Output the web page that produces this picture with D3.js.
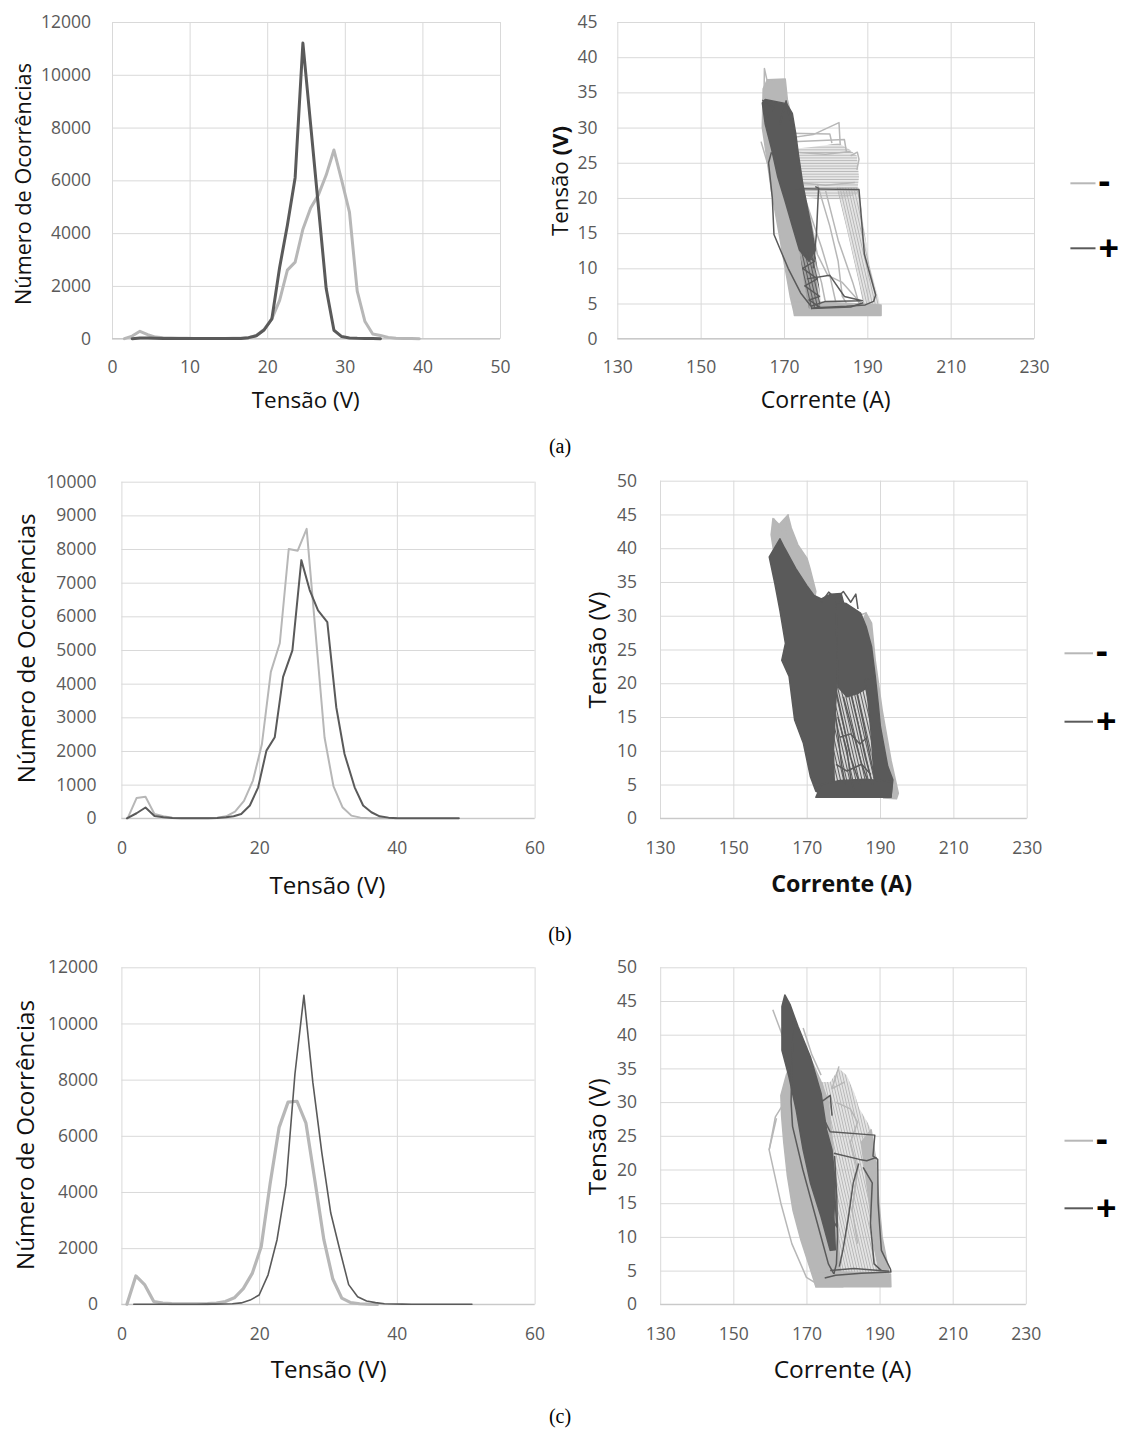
<!DOCTYPE html>
<html><head><meta charset="utf-8">
<script src="https://cdn.jsdelivr.net/npm/d3@7"></script>
<style>body{margin:0;background:#fff}</style>
</head><body>
<svg id="fig" width="1121" height="1431"></svg>
<script>
// ---------------- DATA ----------------
// Histograms: voltage (V) and number of occurrences
const histA_lightV = [1.6,2.6,3.6,4.6,5.6,6.6,7.6,8.6,9.6,10.6,11.6,12.6,13.6,14.6,15.6,16.6,17.6,18.6,19.6,20.6,21.6,22.6,23.6,24.6,25.6,26.6,27.6,28.6,29.6,30.6,31.6,32.6,33.6,34.6,35.6,36.6,37.6,38.6,39.6];
const histA_lightN = [0,100,280,150,60,40,30,20,15,10,10,10,10,10,15,20,40,120,350,750,1450,2600,2900,4150,4950,5450,6200,7150,6000,4800,1800,650,180,120,50,20,10,5,0];
const histA_darkV = [2.6,3.6,4.6,5.6,6.6,7.6,8.6,9.6,10.6,11.6,12.6,13.6,14.6,15.6,16.6,17.6,18.6,19.6,20.6,21.6,22.6,23.6,24.6,25.6,26.6,27.6,28.6,29.6,30.6,31.6,32.6,33.6,34.6];
const histA_darkN = [0,30,30,20,10,10,10,10,10,10,10,10,10,10,10,40,110,330,750,2700,4300,6100,11200,8100,5000,1900,320,80,30,15,10,5,0];

const histB_lightV = [0.9,2.2,3.5,4.8,6.1,7.4,8.7,10.0,11.3,12.6,13.9,15.2,16.5,17.8,19.1,20.4,21.7,23.0,24.3,25.6,26.9,28.2,29.5,30.8,32.1,33.4,34.7,36.0,37.3,38.6,39.9];
const histB_lightN = [0,600,640,130,60,20,10,10,10,10,20,60,200,520,1120,2200,4350,5200,8000,7950,8600,5500,2400,950,330,80,20,5,0,0,0];
const histB_darkV = [0.8,2.2,3.5,4.8,6.1,7.4,8.7,10.0,11.3,12.6,13.9,15.2,16.3,17.4,18.65,19.86,21.06,22.27,23.48,24.83,26.13,27.34,28.55,29.9,31.2,32.4,33.87,35.1,36.3,37.5,38.8,40.1,41.4,42.7,44.0,45.3,46.6,47.9,49.0];
const histB_darkN = [0,150,320,70,30,10,5,5,5,5,10,30,60,130,380,920,2010,2410,4200,4990,7670,6780,6180,5830,3300,1910,920,380,180,60,20,5,0,0,0,0,0,0,0];

const histC_lightV = [0.8,2.1,3.4,4.7,6.0,7.3,8.6,9.9,11.2,12.5,13.8,15.1,16.4,17.7,19.0,20.3,21.6,22.9,24.2,25.5,26.8,28.1,29.4,30.7,32.0,33.3,34.6,35.9,37.2];
const histC_lightN = [0,1010,690,100,40,25,20,20,20,25,40,100,230,560,1100,2050,4300,6300,7200,7230,6450,4400,2300,900,220,60,20,5,0];
const histC_darkV = [1.8,3.1,4.4,5.7,7.0,8.3,9.6,10.9,12.2,13.5,14.8,16.1,17.4,18.7,20.0,21.3,22.6,23.9,25.2,26.5,27.8,29.1,30.4,31.7,33.0,34.3,35.6,36.9,38.2,39.5,40.8,42.1,43.4,44.7,46.0,47.3,48.6,49.9,50.9];
const histC_darkN = [0,0,0,0,0,0,0,0,5,5,10,20,50,150,330,1050,2300,4250,8200,11000,7900,5400,3250,1950,700,270,120,60,20,10,5,0,0,0,0,0,0,0,0];

// I-V cycles: [Corrente (A), Tensão (V)]
// "Dense" = outline of regions completely covered by cycles; "Sparse" = outline of regions partly covered; "Traces" = individual loops
const ivA_lightDense = [
  [[164.8,30],[165,35.5],[166,36.8],[170.3,36.9],[170.8,34],[172,31],[173,27.5],[174.5,22],[176,15],[177.5,9],[178.5,4.5],[178,3.5],[172.5,3.5],[171.5,6],[170,11],[168.5,16],[167,21],[165.8,26]],
  [[172.5,3.3],[193.3,3.3],[193.3,4.8],[186,5],[178,5.2],[172.5,5.2]]
];
const ivA_lightSparseFlat = [
  [[172.5,27],[176,27.2],[180,27.5],[183,27.8],[185.5,27],[187.5,26],[188,23],[187.5,20.5],[183,19.8],[178,19.8],[174,20.5],[173,23]]
];
const ivA_lightSparse = [
  [[182.6,21.6],[188,21.5],[188.8,17.3],[190.6,10.3],[192.8,5.5],[193.3,3.3],[189.5,3.3],[188,7.9],[185.3,15]]
];
const ivA_lightTraces = [
  [[165.2,34],[165.3,38.4],[166.2,36]],
  [[171,28.5],[177,29],[183.2,30.7],[183.5,27.5]],
  [[171.5,29.2],[181,29.1],[181.5,27.8]],
  [[172,28],[184.5,28.3],[185,26.5]],
  [[186,26],[187.6,26.5],[188,25.5],[187.5,24]],
  [[178,22],[181,16],[183,11],[184,6],[186,4]],
  [[175,20],[179,13],[181,9],[182.5,5],[183,4]],
  [[180,21],[183,14],[186.5,8],[188,5]],
  [[176,18],[178,12],[180.5,9],[184,8],[188.5,5]],
  [[173,24],[175,17],[177,12],[179,8],[180,5]],
  [[164.5,28],[166.5,24],[168,20],[169,17]],
  [[172.5,26.5],[180,26.2],[186,26.6]],
  [[172.8,22.2],[180,21.8],[187,22.2]]
];
const ivA_darkDense = [
  [[164.8,33.5],[165.5,34],[170.6,33.4],[172,32],[172.8,29.2],[173.5,26],[174.5,22],[175.5,19],[176.5,16],[177.5,12.6],[176,11],[173.7,12.6],[172,16],[170.2,19.7],[168.5,23],[167,27],[165.5,30.5]]
];
const ivA_darkSparse = [
  [[173.7,12.6],[177.5,12.6],[178.8,5.5],[178.6,4.3],[176,4.3],[174.8,8]]
];
const ivA_darkTraces = [
  [[173.7,12.6],[177.3,11],[174.5,10],[178,8.5],[175,7.5],[178.5,6],[176,5.5],[178.6,4.5],[176.5,4.3]],
  [[167,26.5],[166.3,25],[167.2,20],[167.6,14.8],[171,10],[174,6.5],[176.5,4.6]],
  [[172.8,21.3],[188,21.2],[189.3,12],[192,6.2],[191.5,5.3],[189.5,4.8],[185,4.6],[177.5,4.4]],
  [[177.5,21.6],[178.3,21.4],[177.8,15],[177,10]],
  [[175.5,8.5],[181,9],[184.5,6],[188.8,5.4],[180,5.3],[176.5,4.6]],
  [[176.5,4.3],[186,4.5],[189,5.1]],
  [[164.8,33.9],[167.5,32.8],[166,31.5],[168,33.7]],
  [[169,30.5],[170.5,33.8],[171.5,31]]
];

const ivB_lightDense = [
  [[160.8,44.4],[162.5,43.5],[164.9,44.9],[165.8,43],[167.6,40.5],[170.1,38.5],[171,36.8],[172.5,33.6],[172,32],[168,33],[164,36],[161,39.5],[160.3,42]],
  [[185.5,29.5],[186.2,30.4],[187.7,28.9],[188.7,23.4],[190.6,16],[193,8.6],[195,3.7],[194.5,2.9],[191,3],[190,7],[188.5,13],[187.5,19],[186.5,24]]
];
const ivB_lightTraces = [
  [[184,30],[186.2,30.4],[185.5,28]],
  [[161,44.4],[163,42.5],[162.2,41]],
  [[165,45],[164.2,42]]
];
const ivB_darkDense = [
  [[159.8,38.7],[162.7,41.4],[164,40],[167,37],[170,34.5],[172,33],[174,32.5],[176.5,33.2],[179.4,33.3],[180.5,31],[179.5,27],[178.5,22],[177.8,16],[177.3,10],[177.5,5.5],[176,3.2],[172.5,4],[171,6.2],[169.1,11.1],[166.7,14.6],[165.2,21],[163.2,23.4],[164.2,25.9],[162.7,30.8],[161.3,34.8]],
  [[178,32],[180.8,31.8],[184.7,30.4],[186.2,28.4],[187.7,25.4],[188.7,21],[187,19.5],[184,18.5],[181,18],[178.5,19.5]],
  [[186,20.5],[188.7,21],[189.5,17],[190.1,13.6],[192.1,7.7],[193.5,5.7],[193,3.2],[189.5,3.1],[188.5,5.5],[188,9],[187.5,13],[186.8,17]],
  [[172.5,3.1],[193,3.1],[193.3,5.4],[186,5.8],[179,5.6],[174,5]]
];
const ivB_darkSparse = [
  [[177.3,19.5],[187,19.5],[187.8,8],[188.5,5.5],[177.3,5.5],[177.2,10]]
];
const ivB_darkTraces = [
  [[178,19],[180,14],[182,9],[184.5,5]],
  [[180,18],[183,12],[185,8],[187,5]],
  [[182,18.5],[184,14],[186,9],[188,5]],
  [[183.5,19],[185.5,14],[187,10],[188.5,6]],
  [[178.5,15],[181,10],[182,6],[183,4]],
  [[179,12],[182,12.5],[184.5,11],[186.5,12]],
  [[178,8],[181,7],[185,8],[187.5,6.5]],
  [[177.5,17],[179.5,8],[180.5,5]],
  [[174,32],[176,33.5],[178,32.5],[180,33.6],[182,32],[183.4,33.2],[184,31]]
];

const ivC_lightDense = [
  [[163,31],[164.5,34],[166.5,36.5],[169,38],[171.5,36],[174,33],[176,30],[177.5,22],[178.5,12],[179,6],[180,2.6],[172.6,2.6],[171.5,4.5],[168.5,9.5],[166.3,14],[164.8,19],[163.8,24],[163.2,28]],
  [[172.6,2.6],[193.1,2.6],[193,4.5],[180,4.8],[172,4.5]],
  [[185,24],[187.7,25.9],[188.8,22],[189.2,18.9],[190.7,10],[192.5,5],[190,4.5],[188.5,9],[187,16]]
];
const ivC_lightSparse = [
  [[174,33],[176.5,33],[178.9,35],[181,34],[183,31.5],[184.5,29],[186.8,26.9],[187.7,25.9],[188.8,22],[189.2,18.9],[190.7,10],[192.5,5],[193.1,2.6],[179,2.6],[178.5,12],[177.5,22],[176,30]]
];
const ivC_lightTraces = [
  [[160.8,43.7],[163,40.5],[164.5,38],[166,35]],
  [[161.8,27.6],[159.8,22.9],[163,15],[166,9],[170,4],[173,3]],
  [[159.8,22.9],[161.5,27.8],[164,30]],
  [[169.1,41],[171.5,37],[174,34]],
  [[178.9,35.3],[177,32],[180.5,33]],
  [[188.5,17],[189.3,20.5],[188.5,22.5]],
  [[178,30],[182,29],[184,27],[182,24],[184,20],[182.5,14],[184,9]]
];
const ivC_darkDense = [
  [[163.3,44.2],[164.1,45.9],[165.5,44.5],[167.7,41.2],[171.1,36.7],[174,31.3],[175.5,25.9],[177,22.9],[177.9,18],[177.5,13],[177.9,8.1],[176.5,8],[174,13],[171.1,18],[169.1,22.9],[167.2,28.8],[165.2,33.8],[163.3,37.7]]
];
const ivC_darkTraces = [
  [[166.5,42],[166,36],[165.8,30],[166.2,26.4],[169,20],[172.5,13],[176,6],[177.5,4.5]],
  [[175.2,27],[176.5,25.6],[188.7,25.1],[188.2,22],[189.5,21.5],[189.6,15],[190.5,8],[193,5.2],[193.1,4.8],[185,4.6],[178,4.3],[175,3.9]],
  [[177.5,22.4],[184.5,21.5],[186.5,21.3],[189.2,21.8]],
  [[184.3,20.9],[182.8,18],[181.5,13],[180,8.1],[179,5.6]],
  [[185.5,20.3],[188,18],[187.5,12],[188.5,6],[190.5,5]],
  [[177.7,22],[178.3,16],[178.5,10],[178.2,6],[177.5,4.5]],
  [[176.5,5],[183,5.3],[190,5],[192.7,4.9]],
  [[174,30],[176.5,31],[177,28]],
  [[176.6,13],[178.3,11.5],[177.5,18.5]]
];

// Tick values
const ticksVolt50 = [0,10,20,30,40,50];
const ticksVolt60 = [0,20,40,60];
const ticksCount12k = [0,2000,4000,6000,8000,10000,12000];
const ticksCount10k = [0,1000,2000,3000,4000,5000,6000,7000,8000,9000,10000];
const ticksAmp = [130,150,170,190,210,230];
const ticksV45 = [0,5,10,15,20,25,30,35,40,45];
const ticksV50 = [0,5,10,15,20,25,30,35,40,45,50];
const legendLabels = ['-','+'];
const captions = ['(a)','(b)','(c)'];

// ---------------- DRAWING ----------------
const svg = d3.select('#fig');
const LIGHT = '#b7b7b7', DARK = '#5a5a5a', GRID = '#d9d9d9', AXIS = '#c9c9c9', TICK = '#5a5a5a', TITLE = '#111111';
const FONT = "'Open Sans', 'DejaVu Sans', sans-serif";

// hatch patterns that imitate many overlapping cycle lines
const defs = svg.append('defs');
function hatch(id, color, angle, period, sw) {
  const p = defs.append('pattern').attr('id', id).attr('patternUnits', 'userSpaceOnUse')
    .attr('width', period).attr('height', 12).attr('patternTransform', `rotate(${angle})`);
  p.append('line').attr('x1', period / 2).attr('x2', period / 2).attr('y1', 0).attr('y2', 12)
    .attr('stroke', color).attr('stroke-width', sw);
}
hatch('hLightD', LIGHT, -13, 2.7, 1.6);
hatch('hLightH', LIGHT, 90, 2.7, 1.5);
hatch('hDarkD', DARK, -13, 3.0, 1.5);

function fitText(sel, target) {
  const w = sel.node().getComputedTextLength();
  const fs = parseFloat(sel.attr('font-size'));
  if (w > 0) sel.attr('font-size', fs * target / w);
}

function panel(c) {
  const x = d3.scaleLinear().domain(c.xd).range([c.left, c.right]);
  const y = d3.scaleLinear().domain(c.yd).range([c.bottom, c.top]);
  const g = svg.append('g');
  g.append('g').attr('transform', `translate(${c.left},0)`)
    .call(d3.axisLeft(y).tickValues(c.yt).tickSize(-(c.right - c.left)).tickPadding(c.left - c.yLabRight).tickFormat(d3.format('d')))
    .call(s => {
      s.select('.domain').remove();
      s.selectAll('line').attr('stroke', GRID).attr('stroke-width', 1);
      s.selectAll('text').attr('fill', TICK).attr('font-size', 17.5).attr('font-family', FONT);
    });
  g.append('g').attr('transform', `translate(0,${c.bottom})`)
    .call(d3.axisBottom(x).tickValues(c.xt).tickSize(-(c.bottom - c.top)).tickFormat(d3.format('d')))
    .call(s => {
      s.select('.domain').remove();
      s.selectAll('line').attr('stroke', GRID).attr('stroke-width', 1);
      s.selectAll('text').attr('fill', TICK).attr('font-size', 17.5).attr('font-family', FONT)
        .attr('y', c.xLabY - c.bottom).attr('dy', '0.35em');
    });
  g.append('line').attr('x1', c.left).attr('x2', c.right).attr('y1', c.bottom).attr('y2', c.bottom)
    .attr('stroke', AXIS).attr('stroke-width', 1.2);
  const xt = g.append('text').attr('x', c.xTitle[0]).attr('y', c.xTitle[1]).attr('text-anchor', 'middle')
    .attr('dominant-baseline', 'central').attr('font-family', FONT).attr('font-size', 20).attr('fill', TITLE)
    .attr('font-weight', c.xBold ? 700 : 400).text(c.xLabel);
  fitText(xt, c.xTitleW);
  const yt = g.append('text').attr('transform', `translate(${c.yTitle[0]},${c.yTitle[1]}) rotate(-90)`)
    .attr('text-anchor', 'middle').attr('dominant-baseline', 'central').attr('font-family', FONT)
    .attr('font-size', 20).attr('fill', TITLE);
  c.yLabel.forEach(p => yt.append('tspan').attr('font-weight', p[1] ? 700 : 400).text(p[0]));
  fitText(yt, c.yTitleW);
  return {g, x, y};
}

function drawHist(p, series) {
  const line = d3.line().x(d => p.x(d[0])).y(d => p.y(d[1]));
  series.forEach(s => {
    p.g.append('path').datum(d3.zip(s.v, s.n)).attr('d', line).attr('fill', 'none')
      .attr('stroke', s.color).attr('stroke-width', s.w).attr('stroke-linejoin', 'round').attr('stroke-linecap', 'round');
  });
}

function drawIV(p, layers) {
  const area = d3.line().x(d => p.x(d[0])).y(d => p.y(d[1])).curve(d3.curveLinearClosed);
  const line = d3.line().x(d => p.x(d[0])).y(d => p.y(d[1]));
  layers.forEach(L => {
    if (L.areas) {
      p.g.append('g').selectAll('path').data(L.areas).join('path').attr('d', area)
        .attr('fill', L.fill).attr('stroke', L.stroke || 'none').attr('stroke-width', 1.5).attr('stroke-linejoin', 'round');
    }
    if (L.traces) {
      p.g.append('g').selectAll('path').data(L.traces).join('path').attr('d', line)
        .attr('fill', 'none').attr('stroke', L.color).attr('stroke-width', 1.5).attr('stroke-linejoin', 'round');
    }
  });
}

function legend(x0, x1, yMinus, yPlus) {
  const g = svg.append('g');
  [[yMinus, LIGHT, legendLabels[0]], [yPlus, DARK, legendLabels[1]]].forEach(([yy, col, lab], i) => {
    g.append('line').attr('x1', x0).attr('x2', x1).attr('y1', yy).attr('y2', yy).attr('stroke', col).attr('stroke-width', 2);
    g.append('text').attr('x', x1 + 3).attr('y', yy + (i === 0 ? 10 : 12.5)).attr('font-family', FONT)
      .attr('font-weight', 700).attr('font-size', 36).attr('fill', '#000').text(lab);
  });
}

const TENSAO = [['Tensão ', false], ['(V)', false]];
const OCORR = [['Número de Ocorrências', false]];

// ---- Row (a)
const pA1 = panel({left: 112, right: 500, top: 22, bottom: 338.7, xd: [0, 50], yd: [0, 12000], xt: ticksVolt50, yt: ticksCount12k,
  yLabRight: 91, xLabY: 366.7, xLabel: 'Tensão (V)', xTitle: [305.7, 399], xTitleW: 108,
  yLabel: OCORR, yTitle: [21.6, 184], yTitleW: 242});
drawHist(pA1, [
  {v: histA_lightV, n: histA_lightN, color: LIGHT, w: 3},
  {v: histA_darkV, n: histA_darkN, color: DARK, w: 3}
]);
const pA2 = panel({left: 617.3, right: 1034, top: 22, bottom: 338.7, xd: [130, 230], yd: [0, 45], xt: ticksAmp, yt: ticksV45,
  yLabRight: 597.4, xLabY: 366.7, xLabel: 'Corrente (A)', xTitle: [825.7, 399], xTitleW: 130,
  yLabel: [['Tensão ', false], ['(V)', true]], yTitle: [558.5, 181], yTitleW: 110});
drawIV(pA2, [
  {areas: ivA_lightDense, fill: LIGHT, stroke: LIGHT},
  {areas: ivA_lightSparseFlat, fill: 'url(#hLightH)'},
  {areas: ivA_lightSparse, fill: 'url(#hLightD)'},
  {traces: ivA_lightTraces, color: LIGHT},
  {areas: ivA_darkDense, fill: DARK, stroke: DARK},
  {areas: ivA_darkSparse, fill: 'url(#hDarkD)'},
  {traces: ivA_darkTraces, color: DARK}
]);
legend(1070.4, 1095.5, 183.3, 248.3);

// ---- Row (b)
const pB1 = panel({left: 121.4, right: 534.6, top: 481.7, bottom: 818.3, xd: [0, 60], yd: [0, 10000], xt: ticksVolt60, yt: ticksCount10k,
  yLabRight: 96.4, xLabY: 848.3, xLabel: 'Tensão (V)', xTitle: [327.5, 884], xTitleW: 116,
  yLabel: OCORR, yTitle: [25, 648.3], yTitleW: 270});
drawHist(pB1, [
  {v: histB_lightV, n: histB_lightN, color: LIGHT, w: 2},
  {v: histB_darkV, n: histB_darkN, color: DARK, w: 2}
]);
const pB2 = panel({left: 660, right: 1026.7, top: 480.7, bottom: 818.3, xd: [130, 230], yd: [0, 50], xt: ticksAmp, yt: ticksV50,
  yLabRight: 637, xLabY: 848.3, xLabel: 'Corrente (A)', xBold: true, xTitle: [841.7, 883.3], xTitleW: 141,
  yLabel: TENSAO, yTitle: [595.7, 650], yTitleW: 117});
drawIV(pB2, [
  {areas: ivB_lightDense, fill: LIGHT, stroke: LIGHT},
  {traces: ivB_lightTraces, color: LIGHT},
  {areas: ivB_darkSparse, fill: 'url(#hDarkD)'},
  {areas: ivB_darkDense, fill: DARK, stroke: DARK},
  {traces: ivB_darkTraces, color: DARK}
]);
legend(1064.5, 1093, 653.3, 721.7);

// ---- Row (c)
const pC1 = panel({left: 121.4, right: 534.6, top: 967.3, bottom: 1304.3, xd: [0, 60], yd: [0, 12000], xt: ticksVolt60, yt: ticksCount12k,
  yLabRight: 98, xLabY: 1334.3, xLabel: 'Tensão (V)', xTitle: [328.6, 1368.3], xTitleW: 116,
  yLabel: OCORR, yTitle: [24, 1135], yTitleW: 270});
drawHist(pC1, [
  {v: histC_lightV, n: histC_lightN, color: LIGHT, w: 3.2},
  {v: histC_darkV, n: histC_darkN, color: DARK, w: 1.6}
]);
const pC2 = panel({left: 660.2, right: 1025.8, top: 967.3, bottom: 1304.3, xd: [130, 230], yd: [0, 50], xt: ticksAmp, yt: ticksV50,
  yLabRight: 637, xLabY: 1334.3, xLabel: 'Corrente (A)', xTitle: [842.6, 1368.3], xTitleW: 138,
  yLabel: TENSAO, yTitle: [595.7, 1136.7], yTitleW: 117});
drawIV(pC2, [
  {areas: ivC_lightSparse, fill: 'url(#hLightD)'},
  {areas: ivC_lightDense, fill: LIGHT, stroke: LIGHT},
  {traces: ivC_lightTraces, color: LIGHT},
  {areas: ivC_darkDense, fill: DARK, stroke: DARK},
  {traces: ivC_darkTraces, color: DARK}
]);
legend(1064.5, 1093, 1140.7, 1208.3);

// Captions
[[560, 453], [560, 941], [560, 1423]].forEach((pos, i) => {
  svg.append('text').attr('x', pos[0]).attr('y', pos[1]).attr('text-anchor', 'middle')
    .attr('font-family', "'Liberation Serif', 'Times New Roman', serif").attr('font-size', 20).attr('fill', '#000')
    .text(captions[i]);
});
</script>
</body></html>
